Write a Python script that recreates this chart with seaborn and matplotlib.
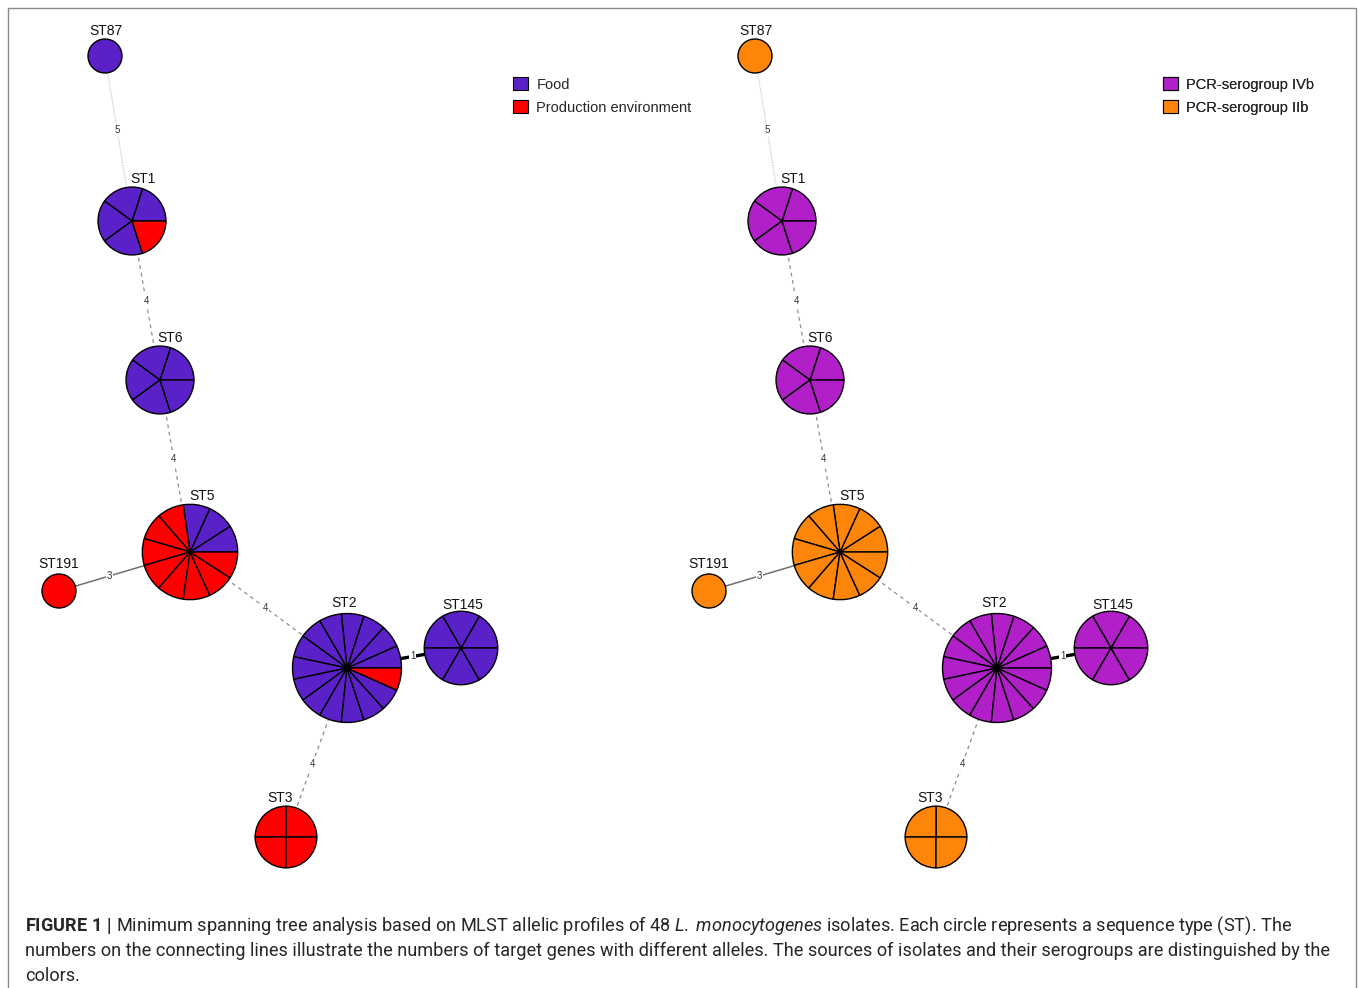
import numpy as np
import matplotlib
matplotlib.use('Agg')
import matplotlib.pyplot as plt
from matplotlib.patches import Patch, Rectangle
from matplotlib import font_manager
import seaborn as sns

# sequence types and number of isolates in each group
st_names = ['ST87', 'ST1', 'ST6', 'ST5', 'ST191', 'ST2', 'ST145', 'ST3']
food = [1, 4, 5, 3, 0, 14, 6, 0]
production = [0, 1, 0, 8, 1, 1, 0, 4]
sero_ivb = [0, 5, 5, 0, 0, 15, 6, 0]
sero_iib = [1, 0, 0, 11, 1, 0, 0, 4]

source_labels = ['Food', 'Production environment']
sero_labels = ['PCR-serogroup IVb', 'PCR-serogroup IIb']

# tree edges and number of differing alleles
edge_from = ['ST87', 'ST1', 'ST6', 'ST5', 'ST5', 'ST2', 'ST2']
edge_to = ['ST1', 'ST6', 'ST5', 'ST191', 'ST2', 'ST145', 'ST3']
edge_diff = [5, 4, 4, 3, 4, 1, 4]

# layout of the left panel in pixels (y down), right panel is shifted
node_pos = {'ST87': (105, 56), 'ST1': (132, 221), 'ST6': (160, 380),
            'ST5': (190, 552), 'ST191': (59, 591), 'ST2': (347, 668),
            'ST145': (461, 648), 'ST3': (286, 837)}
label_dx = {'ST87': 1, 'ST1': 11, 'ST6': 10, 'ST5': 12, 'ST191': 0,
            'ST2': -3, 'ST145': 2, 'ST3': -6}
label_dy = {'ST87': 0, 'ST1': 0, 'ST6': 0, 'ST5': 0, 'ST191': -2,
            'ST2': -3, 'ST145': 2, 'ST3': 0}
panel_shift = 650

edge_style = {
    5: dict(color='#c8c8c8', linestyle=(0, (1, 1)), linewidth=0.9),
    4: dict(color='#8f8f8f', linestyle=(0, (3, 3)), linewidth=0.9),
    3: dict(color='#707070', linestyle='-', linewidth=1.1),
    1: dict(color='black', linestyle='-', linewidth=2.4),
}

sns.set_theme(style='white')
plt.rcParams['font.family'] = ['Liberation Sans', 'DejaVu Sans']

W, H = 1358, 988
fig = plt.figure(figsize=(W / 100, H / 100), dpi=100)
ax = fig.add_axes([0, 0, 1, 1])


def radius(n):
    return 17 * n ** 0.43


def draw_panel(ax, shift, groups, colors, labels, legend_xy):
    counts = [sum(g[i] for g in groups) for i in range(len(st_names))]
    size = dict(zip(st_names, counts))
    pos = {k: (x + shift, y) for k, (x, y) in node_pos.items()}

    # edges with their allele-difference labels
    for a, b, d in zip(edge_from, edge_to, edge_diff):
        (x1, y1), (x2, y2) = pos[a], pos[b]
        ax.plot([x1, x2], [y1, y2], zorder=0.5, **edge_style[d])
        L = np.hypot(x2 - x1, y2 - y1)
        ux, uy = (x2 - x1) / L, (y2 - y1) / L
        r1, r2 = radius(size[a]), radius(size[b])
        mx = (x1 + ux * r1 + x2 - ux * r2) / 2
        my = (y1 + uy * r1 + y2 - uy * r2) / 2
        ax.text(mx, my, str(d), fontsize=7, ha='center', va='center',
                color='#333333', zorder=0.8,
                bbox=dict(boxstyle='square,pad=0.1', fc='white', ec='none'))

    # pie nodes, one slice per isolate
    for i, st in enumerate(st_names):
        slice_colors = []
        for g, c in zip(groups, colors):
            slice_colors += [c] * g[i]
        x, y = pos[st]
        r = radius(counts[i])
        ax.pie([1] * counts[i], colors=slice_colors, center=(x, y), radius=r,
               startangle=0, counterclock=False,
               wedgeprops=dict(edgecolor='black', linewidth=1.0))
        ax.text(x + label_dx[st], y - r - 4 + label_dy[st], st, ha='center',
                va='baseline', fontsize=10, color='#111111')

    handles = [Patch(facecolor=c, edgecolor='black', linewidth=0.8) for c in colors]
    leg = ax.legend(handles, labels, loc='upper left', bbox_to_anchor=legend_xy,
                    bbox_transform=ax.transData, frameon=False, fontsize=10.5,
                    handlelength=1.0, handleheight=1.0, handletextpad=0.6,
                    labelspacing=0.6, borderpad=0, borderaxespad=0)
    ax.add_artist(leg)


source_colors = ['#5b21c8', '#fe0000']
sero_colors = ['#b11fc9', '#fc850a']

draw_panel(ax, 0, [food, production], source_colors, source_labels, (513, 77))
draw_panel(ax, panel_shift, [sero_ivb, sero_iib], sero_colors, sero_labels, (1163, 77))

ax.set_xlim(0, W)
ax.set_ylim(H, 0)
ax.axis('off')

# frame around the figure
ax.add_patch(Rectangle((8, 8), 1348, 1010, fill=False, edgecolor='#8a8a8a',
                       linewidth=1.0, clip_on=False))

# caption
names = {f.name for f in font_manager.fontManager.ttflist}
cap_font = 'Liberation Sans Narrow' if 'Liberation Sans Narrow' in names else 'Roboto'
plt.rcParams['mathtext.fontset'] = 'custom'
plt.rcParams['mathtext.rm'] = cap_font
plt.rcParams['mathtext.it'] = cap_font + ':italic'
plt.rcParams['mathtext.bf'] = cap_font + ':bold'

caption = [
    r"$\mathbf{FIGURE\ 1\ \vert}$ Minimum spanning tree analysis based on MLST allelic profiles "
    r"of 48 $\mathit{L.}$ $\mathit{monocytogenes}$ isolates. Each circle represents a sequence type (ST). The",
    "numbers on the connecting lines illustrate the numbers of target genes with different "
    "alleles. The sources of isolates and their serogroups are distinguished by the",
    "colors.",
]
cap_texts = [ax.text(25, 931 + 25 * k, line, ha='left', va='baseline', fontsize=13,
                     family=cap_font, color='#262626')
             for k, line in enumerate(caption)]
fig.canvas.draw()
w = cap_texts[0].get_window_extent().width
for t in cap_texts:
    t.set_fontsize(13 * 1268 / w)

fig.savefig('out.png', dpi=100, facecolor='white')
